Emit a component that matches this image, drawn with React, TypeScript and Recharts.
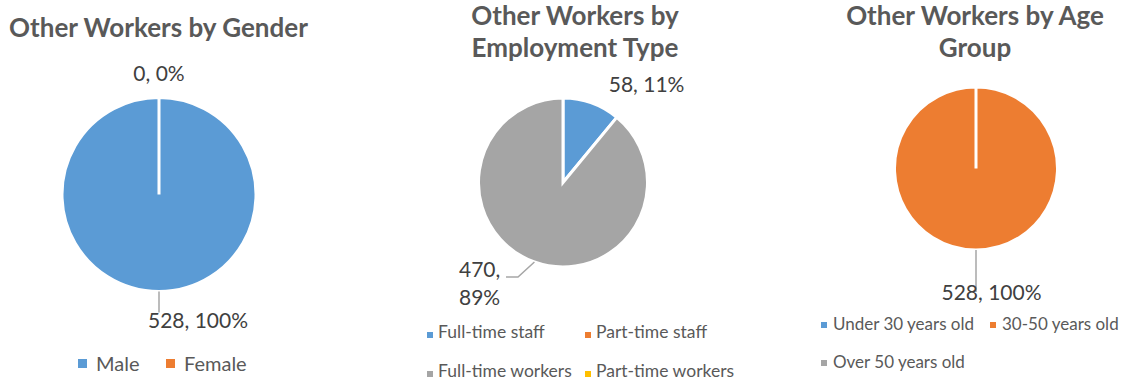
import React from 'react';
import { PieChart, Pie, Cell, Legend } from 'recharts';

const GENDER_NAMES = ['Male', 'Female'];
const GENDER_VALUES = [528, 0];

const EMPLOYMENT_NAMES = ['Full-time staff', 'Part-time staff', 'Full-time workers', 'Part-time workers'];
const EMPLOYMENT_VALUES = [58, 0, 470, 0];

const AGE_NAMES = ['Under 30 years old', '30-50 years old', 'Over 50 years old'];
const AGE_VALUES = [0, 528, 0];

const COLORS = ['#5B9BD5', '#ED7D31', '#A5A5A5', '#FFC000'];
const FONT = 'Lato, "Open Sans", sans-serif';
const RAD = Math.PI / 180;

type LabelSpec = {
  dx: number;
  dy: number;
  anchor: 'start' | 'middle' | 'end';
  wrap?: boolean;
  leader?: [number, number][];
};

const makeLabel = (specs: Record<number, LabelSpec>) => (props: any) => {
  const { cx, cy, midAngle, outerRadius, value, percent, index } = props;
  const spec = specs[index];
  if (!spec) return null;
  const px = cx + outerRadius * Math.cos(-midAngle * RAD);
  const py = cy + outerRadius * Math.sin(-midAngle * RAD);
  const pct = Math.round((percent || 0) * 100);
  const lines = spec.wrap ? [`${value},`, `${pct}%`] : [`${value}, ${pct}%`];
  return (
    <g key={`lbl-${index}`}>
      {spec.leader && (
        <polyline
          points={[[0, 0], ...spec.leader].map(([a, b]) => `${px + a},${py + b}`).join(' ')}
          fill="none"
          stroke="#A6A6A6"
          strokeWidth={1.5}
        />
      )}
      <text
        x={px + spec.dx}
        y={py + spec.dy}
        textAnchor={spec.anchor}
        fill="#404040"
        fontSize={21}
        fontFamily={FONT}
      >
        {lines.map((l, i) => (
          <tspan key={i} x={px + spec.dx} dy={i === 0 ? 0 : 28}>
            {l}
          </tspan>
        ))}
      </text>
    </g>
  );
};

type LegendOpts = {
  names: string[];
  cols: number;
  colWidth: number;
  fontSize: number;
  square: number;
  squareShift: number;
  textGap: number;
  rowHeight: number;
};

const makeLegend = (opts: LegendOpts) => (props: any) => {
  // keep the series order of the data, not the legend's alphabetical sort
  const payload = [...(props.payload || [])].sort(
    (a: any, b: any) => opts.names.indexOf(a.value) - opts.names.indexOf(b.value)
  );
  return (
    <div
      style={{
        display: 'grid',
        gridTemplateColumns: `repeat(${opts.cols}, ${opts.colWidth}px)`,
        fontFamily: FONT,
        fontSize: opts.fontSize,
        color: '#595959',
        lineHeight: `${opts.rowHeight}px`,
      }}
    >
      {payload.map((p: any) => {
        const idx = opts.names.indexOf(p.value);
        return (
          <div key={p.value} style={{ display: 'flex', alignItems: 'center', whiteSpace: 'nowrap' }}>
            <span
              style={{
                width: opts.square,
                height: opts.square,
                background: COLORS[idx],
                marginRight: opts.textGap - opts.square,
                position: 'relative',
                top: opts.squareShift,
                flex: 'none',
              }}
            />
            <span>{p.value}</span>
          </div>
        );
      })}
    </div>
  );
};

const toRows = (names: string[], values: number[]) => names.map((name, i) => ({ name, value: values[i] }));

const titleStyle: React.CSSProperties = {
  position: 'absolute',
  fontFamily: FONT,
  fontWeight: 700,
  fontSize: 26,
  lineHeight: '32px',
  color: '#595959',
  textAlign: 'center',
  whiteSpace: 'nowrap',
};

interface PieBoxProps {
  left: number;
  width: number;
  names: string[];
  values: number[];
  cx: number;
  cy: number;
  r: number;
  labels: Record<number, LabelSpec>;
  legend: ReturnType<typeof makeLegend>;
  legendPos: { left: number; top: number; width: number };
}

const PieBox: React.FC<PieBoxProps> = ({ left, width, names, values, cx, cy, r, labels, legend, legendPos }) => (
  <div style={{ position: 'absolute', left, top: 0 }}>
    <PieChart width={width} height={380} margin={{ top: 0, right: 0, bottom: 0, left: 0 }}>
      <Pie
        data={toRows(names, values)}
        dataKey="value"
        nameKey="name"
        cx={cx}
        cy={cy}
        outerRadius={r}
        startAngle={90}
        endAngle={-270}
        stroke="#FFFFFF"
        strokeWidth={3}
        label={makeLabel(labels)}
        labelLine={false}
        isAnimationActive={false}
      >
        {names.map((n, i) => (
          <Cell key={n} fill={COLORS[i]} />
        ))}
      </Pie>
      <Legend content={legend} wrapperStyle={{ ...legendPos }} />
    </PieChart>
  </div>
);

export default function App() {
  return (
    <div style={{ position: 'absolute', left: 0, top: 0, width: 1123, height: 380, background: '#fff', overflow: 'hidden' }}>
      <PieBox
        left={0}
        width={375}
        names={GENDER_NAMES}
        values={GENDER_VALUES}
        cx={159}
        cy={194.5}
        r={97}
        labels={{
          0: { dx: -11, dy: 36.5, anchor: 'start', leader: [[0, 21]] },
          1: { dx: 0, dy: -16.5, anchor: 'middle' },
        }}
        legend={makeLegend({ names: GENDER_NAMES, cols: 2, colWidth: 88, fontSize: 20, square: 9, squareShift: 0, textGap: 18, rowHeight: 30 })}
        legendPos={{ left: 78, top: 348, width: 220 }}
      />
      <PieBox
        left={375}
        width={375}
        names={EMPLOYMENT_NAMES}
        values={EMPLOYMENT_VALUES}
        cx={188}
        cy={182.5}
        r={84.5}
        labels={{
          0: { dx: 55, dy: -11, anchor: 'middle' },
          2: { dx: -75.4, dy: 15, anchor: 'start', wrap: true, leader: [[-16.4, 15], [-28.4, 15]] },
        }}
        legend={makeLegend({ names: EMPLOYMENT_NAMES, cols: 2, colWidth: 158, fontSize: 17.5, square: 6, squareShift: 3, textGap: 11, rowHeight: 39 })}
        legendPos={{ left: 52, top: 312, width: 320 }}
      />
      <PieBox
        left={750}
        width={373}
        names={AGE_NAMES}
        values={AGE_VALUES}
        cx={226}
        cy={168.5}
        r={81.5}
        labels={{
          1: { dx: 15.5, dy: 50, anchor: 'middle', leader: [[0, 42]] },
        }}
        legend={makeLegend({ names: AGE_NAMES, cols: 2, colWidth: 169, fontSize: 17, square: 6, squareShift: 1, textGap: 12, rowHeight: 38 })}
        legendPos={{ left: 71, top: 305, width: 300 }}
      />
      <div style={{ ...titleStyle, left: 0, width: 317, top: 11 }}>Other Workers by Gender</div>
      <div style={{ ...titleStyle, left: 425, width: 300, top: -1 }}>
        Other Workers by
        <br />
        Employment Type
      </div>
      <div style={{ ...titleStyle, left: 825, width: 300, top: -1 }}>
        Other Workers by Age
        <br />
        Group
      </div>
    </div>
  );
}
